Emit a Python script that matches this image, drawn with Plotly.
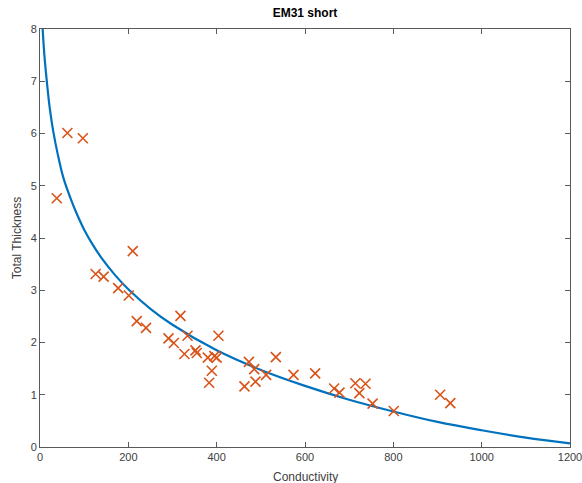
import plotly.graph_objects as go

# Measured samples: conductivity vs total thickness
conductivity = [38, 62, 97, 126, 144, 177, 201, 210, 219, 240, 291, 303, 318, 327,
                334, 352, 355, 380, 383, 389, 395, 400, 404, 463, 473, 485, 488,
                512, 534, 574, 623, 666, 678, 714, 723, 737, 753, 801, 906, 929]
thickness = [4.76, 6.01, 5.91, 3.31, 3.26, 3.04, 2.90, 3.75, 2.41, 2.28, 2.08, 1.99,
             2.51, 1.78, 2.13, 1.85, 1.80, 1.71, 1.23, 1.46, 1.74, 1.71, 2.13, 1.16,
             1.63, 1.49, 1.25, 1.38, 1.72, 1.38, 1.41, 1.12, 1.04, 1.22, 1.03, 1.21,
             0.83, 0.69, 1.00, 0.84]

# Fitted trend curve samples
fit_x = [6, 10, 16, 22, 30, 40, 53, 70, 85, 100, 120, 140, 170, 200, 250, 300,
         400, 500, 600, 700, 800, 900, 1000, 1100, 1200]
fit_y = [8.0, 7.49, 6.95, 6.49, 6.04, 5.61, 5.15, 4.74, 4.43, 4.16, 3.865, 3.61,
         3.29, 3.02, 2.645, 2.34, 1.85, 1.475, 1.17, 0.905, 0.68, 0.48, 0.32,
         0.18, 0.07]

x_ticks = [0, 200, 400, 600, 800, 1000, 1200]
y_ticks = [0, 1, 2, 3, 4, 5, 6, 7, 8]

FONT = "Liberation Sans, Arial, sans-serif"
W, H = 582, 483
M_L, M_R, M_T, M_B = 40, 12, 28.5, 35.7
PLOT_H = H - M_T - M_B

fig = go.Figure()
fig.add_trace(go.Scatter(
    x=fit_x, y=fit_y, mode="lines",
    line=dict(color="#0072BD", width=2.2, shape="spline", smoothing=1),
    hoverinfo="skip", showlegend=False,
))
fig.add_trace(go.Scatter(
    x=conductivity, y=thickness, mode="markers",
    marker=dict(symbol="x-thin", size=10, color="#D95319",
                line=dict(color="#D95319", width=1.6)),
    showlegend=False,
))

axis_common = dict(
    showline=True, linecolor="#5a5a5a", linewidth=1, mirror="ticks",
    ticks="inside", ticklen=5, tickcolor="#5a5a5a", tickwidth=1,
    showgrid=False, zeroline=False, automargin=False,
    ticklabeloverflow="allow",
    tickfont=dict(family=FONT, size=11, color="#404040"),
)

fig.update_layout(
    width=W, height=H,
    margin=dict(l=M_L, r=M_R, t=M_T, b=M_B, autoexpand=False),
    paper_bgcolor="white", plot_bgcolor="white",
    title=dict(text="<b>EM31 short</b>", x=0.5, xanchor="center", xref="paper",
               y=1 - 13 / H, yref="container", yanchor="middle",
               font=dict(family=FONT, size=12, color="black")),
    xaxis=dict(range=[0, 1200], tickvals=x_ticks, **axis_common),
    yaxis=dict(range=[0, 8], tickvals=y_ticks,
               title=dict(text="Total Thickness", standoff=6,
                          font=dict(family=FONT, size=12, color="#404040")),
               **axis_common),
)

# x-axis title sits low, partly below the page edge
fig.add_annotation(
    text="Conductivity", xref="paper", yref="paper",
    x=0.5, y=-(477 - (H - M_B)) / PLOT_H, xanchor="center", yanchor="middle",
    showarrow=False, font=dict(family=FONT, size=12, color="#404040"),
)

fig.write_html("out.html")
